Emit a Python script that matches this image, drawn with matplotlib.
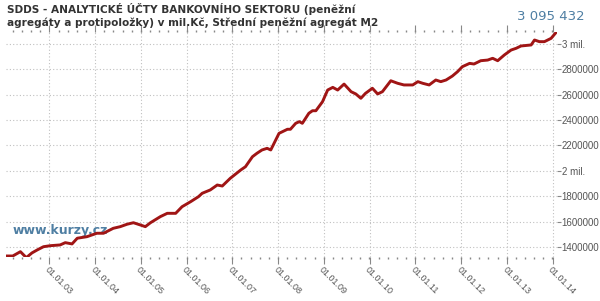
import matplotlib
matplotlib.use("Agg")
import matplotlib.pyplot as plt
import matplotlib.dates as mdates
from matplotlib.ticker import FixedLocator, FuncFormatter, AutoMinorLocator
import numpy as np
import pandas as pd

dates = ["2002-01-20", "2002-03-15", "2002-05-15", "2002-07-01", "2002-08-15", "2002-09-25",
         "2002-11-15", "2003-01-08", "2003-03-28", "2003-05-08", "2003-07-01", "2003-08-12",
         "2003-10-28", "2004-01-15", "2004-03-08", "2004-05-25", "2004-07-20", "2004-09-12",
         "2004-11-02", "2004-12-28", "2005-02-05", "2005-03-18", "2005-06-05", "2005-07-30",
         "2005-10-05", "2005-11-25", "2006-02-02", "2006-04-05", "2006-05-05", "2006-07-08",
         "2006-09-02", "2006-10-12", "2006-12-15", "2007-03-08", "2007-04-15", "2007-06-10",
         "2007-07-16", "2007-08-25", "2007-10-05", "2007-11-03", "2008-01-08", "2008-03-15",
         "2008-04-08", "2008-05-20", "2008-06-18", "2008-07-12", "2008-09-02", "2008-10-01",
         "2008-10-28", "2008-12-20", "2009-01-30", "2009-03-12", "2009-04-20", "2009-06-10",
         "2009-08-05", "2009-09-12", "2009-10-22", "2009-11-28", "2010-01-22", "2010-03-05",
         "2010-04-12", "2010-06-18", "2010-08-12", "2010-10-01", "2010-12-10", "2011-01-20",
         "2011-02-28", "2011-04-20", "2011-06-12", "2011-07-22", "2011-09-02", "2011-10-22",
         "2011-12-02", "2012-01-10", "2012-03-08", "2012-04-12", "2012-06-05", "2012-07-30",
         "2012-09-08", "2012-10-18", "2012-12-10", "2013-02-02", "2013-03-15", "2013-04-22",
         "2013-07-12", "2013-08-08", "2013-09-16", "2013-10-26", "2013-12-18", "2014-02-01"]
values = [1329000, 1329000, 1363000, 1316000, 1353000, 1376000,
          1402000, 1410000, 1416000, 1434000, 1424000, 1469000,
          1481000, 1508000, 1508000, 1547000, 1560000, 1579000,
          1591000, 1573000, 1560000, 1591000, 1639000, 1665000,
          1665000, 1717000, 1757000, 1796000, 1823000, 1849000,
          1888000, 1880000, 1941000, 2006000, 2032000, 2111000,
          2138000, 2164000, 2177000, 2164000, 2295000, 2327000,
          2327000, 2374000, 2387000, 2374000, 2453000, 2473000,
          2473000, 2544000, 2636000, 2657000, 2636000, 2683000,
          2623000, 2605000, 2571000, 2610000, 2650000, 2605000,
          2623000, 2709000, 2689000, 2676000, 2676000, 2702000,
          2689000, 2676000, 2715000, 2702000, 2715000, 2746000,
          2780000, 2820000, 2846000, 2841000, 2867000, 2872000,
          2886000, 2867000, 2912000, 2951000, 2965000, 2983000,
          2991000, 3030000, 3017000, 3017000, 3043000, 3095432]

y_ticks = [1400000, 1600000, 1800000, 2000000, 2200000, 2400000, 2600000, 2800000, 3000000]
x_tick_years = list(range(2003, 2015))
title_lines = ["SDDS - ANALYTICKÉ ÚČTY BANKOVNÍHO SEKTORU (peněžní",
               "agregáty a protipoložky) v mil.Kč, Střední peněžní agregát M2"]
last_label = "3 095 432"
watermark = "www.kurzy.cz"

x = pd.to_datetime(dates)

fig = plt.figure(figsize=(6.0, 3.01), dpi=100)
fig.patch.set_facecolor("white")
ax = fig.add_axes([6/600, 1-257/301, (556.7-6)/600, (257-31.5)/301])
ax.set_facecolor("white")

gray = "#c0c0c0"
for yt in y_ticks:
    ax.axhline(yt, color=gray, lw=0.8, ls=(0, (1, 2)), zorder=1)
for yr in x_tick_years:
    ax.axvline(pd.Timestamp(f"{yr}-01-01"), color=gray, lw=0.8, ls=(0, (1, 2)), zorder=1)

ax.text(0.012, 0.10, watermark, transform=ax.transAxes, color="#4f7fa3",
        fontsize=9, fontweight="bold", family="DejaVu Sans", zorder=2)

ax.plot(x, values, color="#a01515", lw=2.1, zorder=3, solid_joinstyle="round")

ax.set_xlim(x[0], x[-1])
ax.set_ylim(1321000, 3097000)

for s in ax.spines.values():
    s.set_visible(False)

ax.xaxis.set_major_locator(FixedLocator([mdates.date2num(pd.Timestamp(f"{yr}-01-01")) for yr in x_tick_years]))
ax.xaxis.set_major_formatter(mdates.DateFormatter("%d.%m.%y"))
ax.xaxis.set_minor_locator(AutoMinorLocator(5))
ax.tick_params(axis="x", which="major", direction="out", length=5, width=0.8, color="#888888",
               labelsize=6.5, labelcolor="#555555", top=True, bottom=True, pad=1)
ax.tick_params(axis="x", which="minor", direction="out", length=1.2, width=1.0, color="#888888",
               top=True, bottom=True)
for lab in ax.get_xticklabels():
    lab.set_rotation(-45)
    lab.set_ha("left")
    lab.set_va("top")
    lab.set_rotation_mode("anchor")
    lab.set_family("Liberation Sans")

ax.yaxis.tick_right()
ax.yaxis.set_major_locator(FixedLocator(y_ticks))
def yfmt(v, pos):
    if v % 1000000 == 0:
        return f"{int(v // 1000000)} mil."
    return f"{int(v)}"
ax.yaxis.set_major_formatter(FuncFormatter(yfmt))
ax.tick_params(axis="y", which="major", direction="out", length=3, width=0.8, color="#888888",
               labelsize=7, labelcolor="#555555", pad=0.5, left=False, right=True)
for lab in ax.get_yticklabels():
    lab.set_family("Liberation Sans")

fig.text(7/600, 1-3/301, title_lines[0] + "\n" + title_lines[1], ha="left", va="top",
         fontsize=7.6, fontweight="bold", color="#333333", family="DejaVu Sans", linespacing=1.25)
fig.text(585/600, 1-20/301, last_label, ha="right", va="baseline", fontsize=9.5,
         color="#4f7fa3", family="DejaVu Sans")

fig.savefig("out.png", dpi=100, facecolor="white")
